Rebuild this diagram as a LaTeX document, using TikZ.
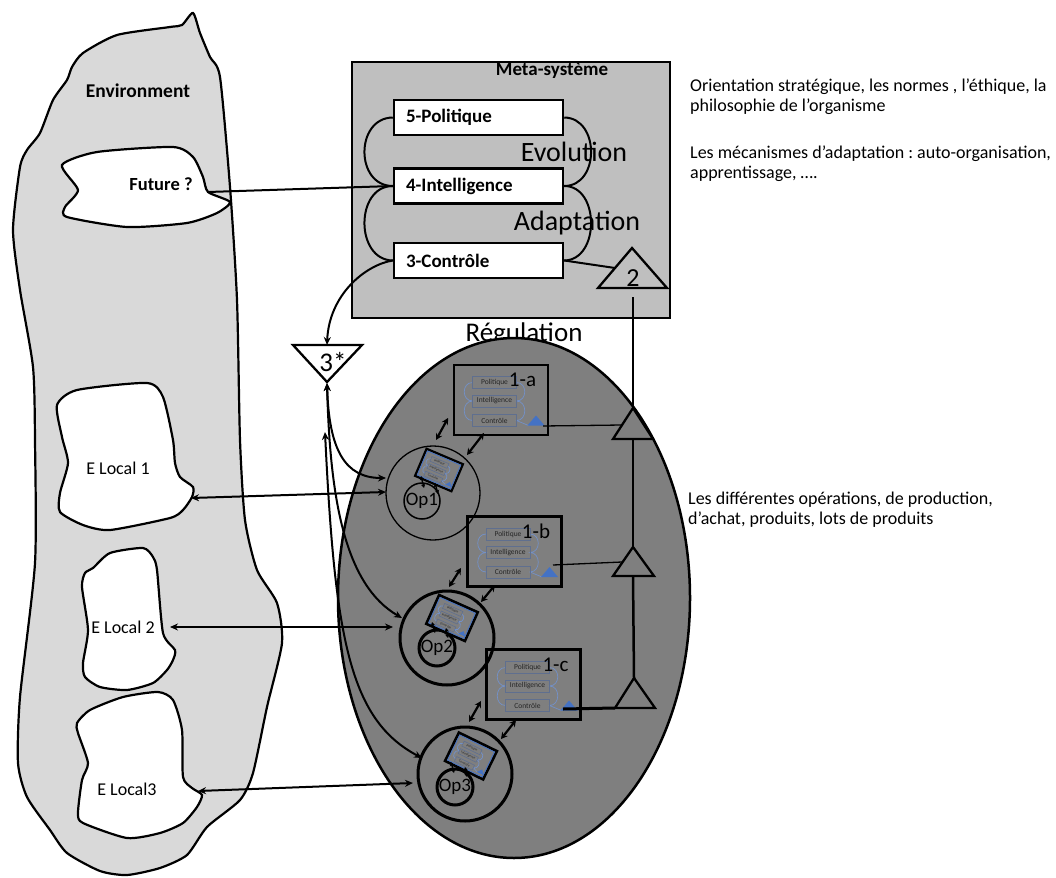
\documentclass[tikz,border=0pt]{standalone}
\usepackage{fontspec}
\setmainfont{Carlito}
\usetikzlibrary{arrows.meta}
\frenchspacing
\newcommand\setfs[1]{\fontsize{#1}{#1}\selectfont}
\definecolor{envgray}{HTML}{D9D9D9}
\definecolor{metagray}{HTML}{BFBFBF}
\definecolor{ellgray}{HTML}{7F7F7F}
\definecolor{mblue}{HTML}{4472C4}
\definecolor{labline}{HTML}{5F6F8F}
\definecolor{loopblue}{HTML}{7391C8}
\tikzset{
  minilab/.style={draw=labline, line width=0.6pt, minimum width=44pt, minimum height=12pt,
    font=\setfs{7.5}, text=black!85, transform shape},
  loopline/.style={draw=loopblue, line width=0.7pt},
  pics/msys/.style n args={2}{code={
    \draw[line width=#2, fill=ellgray] (-47,-35) rectangle (47,35);
    \draw[loopline] (-28,-17) .. controls (-39,-17) and (-39,1.5) .. (-28,1.5)
                    .. controls (-39,1.5) and (-39,21) .. (-28,21);
    \draw[loopline] (16,-17) .. controls (27,-17) and (27,1.5) .. (16,1.5)
                    .. controls (27,1.5) and (27,21) .. (16,21) -- (28,26);
    \node[minilab] (-p) at (-6,-17) {Politique};
    \node[minilab] (-i) at (-6,1.5) {Intelligence};
    \node[minilab] (-c) at (-6,21) {Contrôle};
    \fill[mblue] (27,26) -- (44,26) -- (35.5,16) -- cycle;
    \node[font=\setfs{21}, transform shape] (-lab) at (22,-20) {#1};
  }}
}
\begin{document}
\begin{tikzpicture}[x=1pt,y=-1pt,
  every node/.style={inner sep=0pt},
  blobline/.style={draw=black, line width=2.2pt, fill=white},
  dbl/.style={line width=2pt,{Stealth[length=8pt,width=7pt]}-{Stealth[length=8pt,width=7pt]}},
  sdbl/.style={line width=2.2pt,{Stealth[length=6.5pt,width=7pt]}-{Stealth[length=6.5pt,width=7pt]}},
  tdbl/.style={line width=1.4pt,{Stealth[length=4pt,width=4.5pt]}-{Stealth[length=4pt,width=4.5pt]}},
  tip/.style={line width=2pt,-{Stealth[length=8pt,width=7pt]}},
  metabox/.style={draw, line width=2.5pt, fill=white, minimum width=169pt, minimum height=35pt,
    text width=145pt, align=left, font=\bfseries\setfs{19}},
  tri/.style={line width=2.3pt, line join=miter},
  opout/.style={circle, draw, minimum size=94pt},
  opin/.style={circle, draw, minimum size=36pt, font=\setfs{19}},
  side/.style={anchor=base west, align=left, font=\fontsize{18}{20}\selectfont}
]
\useasboundingbox (0,0) rectangle (1056,877);

% ---------- Environment ----------
\draw[line width=2.2pt, fill=envgray] plot[smooth cycle, tension=0.4] coordinates {
 (193,13) (182,25) (170,27) (117,35) (83,53) (72,67) (67,80) (53,100) (40,133) (27,150)
 (20,167) (13,230) (20,290) (33,367) (35,440) (35,563) (20,697) (18,763) (27,797) (50,830)
 (67,853) (100,871) (127,875) (160,868) (187,855) (207,827) (240,800) (253,773) (267,707)
 (282,643) (277,603) (257,570) (245,520) (240,440) (237,300) (230,187) (220,77) (210,57) (200,33)};
\node[font=\bfseries\setfs{19.5}] (env) at (138,91) {Environment};

\draw[blobline] plot[smooth cycle, tension=0.4] coordinates {
 (62,165) (97,152) (173,147) (193,157) (203,177) (208,192) (230,202) (217,213) (187,223)
 (127,227) (67,217) (65,207) (78,190)};
\node[font=\bfseries\setfs{18.5}] (fut) at (161,184) {Future ?};
\coordinate (futp) at (208,192);

\draw[blobline] plot[smooth cycle, tension=0.4] coordinates {
 (57,405) (77,390) (147,383) (163,397) (173,440) (175,463) (180,477) (193,487) (192,497)
 (183,510) (170,518) (110,530) (83,525) (60,512) (60,493) (68,463) (62,437)};
\node[font=\setfs{18}] (el1) at (118,468) {E Local 1};
\coordinate (el1p) at (191,498);

\draw[blobline] plot[smooth cycle, tension=0.4] coordinates {
 (143,548) (153,557) (157,570) (163,633) (175,650) (173,660) (167,670) (153,683) (127,690)
 (100,687) (85,677) (83,663) (88,630) (82,587) (85,573) (93,568) (110,553)};
\node[font=\setfs{18}] (el2) at (123,627) {E Local 2};
\coordinate (el2p) at (170,627);

\draw[blobline] plot[smooth cycle, tension=0.4] coordinates {
 (158,692) (173,700) (182,730) (183,777) (192,788) (202,795) (197,807) (183,823) (160,833)
 (127,838) (83,823) (78,813) (82,780) (88,763) (78,733) (77,723) (90,710) (123,697)};
\node[font=\setfs{18}] (el3) at (127,789) {E Local3};
\coordinate (el3p) at (198,791);

% ---------- Meta-systeme ----------
\node[draw, line width=2.5pt, fill=metagray, minimum width=318pt, minimum height=256pt] (meta) at (511,190) {};
\node[anchor=base, font=\bfseries\setfs{19}] (metalab) at (552,76) {Meta-système};
\node[metabox] (pol) at (478.5,117.5) {5-Politique};
\node[metabox] (int) at (478.5,186) {4-Intelligence};
\node[metabox] (ctl) at (478.5,260.5) {3-Contrôle};
\draw[line width=2pt] (pol.west) .. controls (355,118) and (355,186) .. (int.west);
\draw[line width=2pt] (int.west) .. controls (355,186) and (355,260) .. (ctl.west);
\draw[line width=2pt] (pol.east) .. controls (600,118) and (600,186) .. (int.east);
\draw[line width=2pt] (int.east) .. controls (600,186) and (600,260) .. (ctl.east);
\node[anchor=base, font=\setfs{28}] (evo) at (574,162) {Evolution};
\node[anchor=base, font=\setfs{28}] (ada) at (577,230) {Adaptation};

\draw[tri] (632,248) -- (667,288) -- (598,288) -- cycle;
\node[anchor=base, font=\setfs{26}] (two) at (633,286) {2};
\coordinate (t2l) at (615,268);
\coordinate (t2b) at (633,297);
\draw[line width=2pt] (ctl.east) -- (t2l);

\draw[line width=2pt] (futp) -- (int.west);

\node[anchor=base, font=\setfs{27}] (reg) at (524,341) {Régulation};

% ---------- 3* ----------
\draw[tri, fill=white] (293,345) -- (362,345) -- (327,382) -- cycle;
\node[anchor=base, font=\setfs{27}] (s3) at (333,371) {3*};
\coordinate (s3top) at (327,345);
\coordinate (s3bot) at (327,383);
\coordinate (s3mid) at (325,432);
\draw[tip] (ctl.west) .. controls (365,265) and (329,295) .. (s3top);

% ---------- Operations ellipse ----------
\draw[line width=2.5pt, fill=ellgray] (514,598) ellipse [x radius=176, y radius=260];

% triangles on the right
\draw[tri] (633,408) -- (653,439) -- (613,439) -- cycle;
\draw[tri] (633,547) -- (654,576) -- (613,576) -- cycle;
\draw[tri] (634,678) -- (655,708) -- (615,708) -- cycle;
\coordinate (tat) at (633,408); \coordinate (tab) at (633,439); \coordinate (tal) at (622,425);
\coordinate (tbt) at (633,547); \coordinate (tbb) at (633,576); \coordinate (tbl) at (622,562);
\coordinate (tct) at (634,678); \coordinate (tcl) at (615,708);
\draw[line width=1.2pt] (t2b) -- (tat);
\draw[line width=1.2pt] (tab) -- (tbt);
\draw[line width=2.5pt] (tbb) -- (tct);

% operation units
\pic (sa) at (500.5,399.5) {msys={1-a}{2pt}};
\pic (sb) at (514,551) {msys={1-b}{3pt}};
\pic (sc) at (533.5,684.5) {msys={1-c}{3pt}};
\coordinate (sat) at (543,426);
\coordinate (sbt) at (553,565);
\coordinate (sct) at (563,709);
\draw[line width=1.3pt] (sat) -- (tal);
\draw[line width=1.3pt] (sbt) -- (tbl);
\draw[line width=3pt] (sct) -- (tcl);

\node[opout, line width=1.3pt] (op1) at (433,493) {};
\node[opin, line width=1.5pt] (op1i) at (422,501) {Op1};
\node[opout, line width=3pt] (op2) at (447,638) {};
\node[opin, line width=3pt] (op2i) at (437,648) {Op2};
\node[opout, line width=3pt] (op3) at (465,774) {};
\node[opin, line width=3pt] (op3i) at (455,787) {Op3};

\begin{scope}[shift={(439,470)}, rotate=-23, scale=0.42]
  \pic[transform shape] (m1) {msys={}{2.2pt}};
  \draw[mblue, line width=0.8pt] (-43,-31) rectangle (43,31);
\end{scope}
\begin{scope}[shift={(452,618)}, rotate=-24, scale=0.45]
  \pic[transform shape] (m2) {msys={}{2.6pt}};
  \draw[mblue, line width=0.8pt] (-43,-31) rectangle (43,31);
\end{scope}
\begin{scope}[shift={(471,756)}, rotate=-26, scale=0.45]
  \pic[transform shape] (m3) {msys={}{2.6pt}};
  \draw[mblue, line width=0.8pt] (-43,-31) rectangle (43,31);
\end{scope}

% small arrows inside the op circles
\coordinate (a11) at (421,476); \coordinate (a12) at (424,488);
\coordinate (a13) at (435,483); \coordinate (a14) at (438,494);
\coordinate (a21) at (432,622); \coordinate (a22) at (435,633);
\coordinate (a23) at (446,628); \coordinate (a24) at (448,638);
\coordinate (a31) at (451,762); \coordinate (a32) at (454,773);
\coordinate (a33) at (465,767); \coordinate (a34) at (467,777);
\draw[tdbl] (a11) -- (a12); \draw[tdbl] (a13) -- (a14);
\draw[tdbl] (a21) -- (a22); \draw[tdbl] (a23) -- (a24);
\draw[tdbl] (a31) -- (a32); \draw[tdbl] (a33) -- (a34);

% small arrows between control boxes and operations
\coordinate (ba1) at (436,440); \coordinate (ba2) at (448,418);
\coordinate (ba3) at (467,455); \coordinate (ba4) at (484,433);
\coordinate (bb1) at (449,587); \coordinate (bb2) at (461,568);
\coordinate (bb3) at (481,602); \coordinate (bb4) at (495,585);
\coordinate (bc1) at (469,722); \coordinate (bc2) at (481,701);
\coordinate (bc3) at (501,739); \coordinate (bc4) at (516,720);
\draw[sdbl] (ba1) -- (ba2); \draw[sdbl] (ba3) -- (ba4);
\draw[sdbl] (bb1) -- (bb2); \draw[sdbl] (bb3) -- (bb4);
\draw[sdbl] (bc1) -- (bc2); \draw[sdbl] (bc3) -- (bc4);

% links environment <-> operations
\coordinate (op1w) at (386,492);
\coordinate (op2w) at (393,627);
\coordinate (op3w) at (413,783);
\draw[dbl] (el1p) -- (op1w);
\draw[dbl] (el2p) -- (op2w);
\draw[dbl] (el3p) -- (op3w);

% links 3* <-> operations
\coordinate (op1a) at (386,478);
\coordinate (op2a) at (402,618);
\coordinate (op3a) at (422,758);
\draw[dbl] (s3bot) .. controls (329,450) and (345,478) .. (op1a);
\draw[dbl] (s3bot) .. controls (330,500) and (345,585) .. (op2a);
\draw[dbl] (s3mid) .. controls (335,640) and (350,720) .. (op3a);

% ---------- side notes ----------
\node[side] (n1) at (690,112) {Orientation stratégique, les normes , l’éthique, la\\philosophie de l’organisme};
\node[side] (n2) at (690,179) {Les mécanismes d’adaptation : auto-organisation,\\apprentissage, ….};
\node[side] (n3) at (688,524) {Les différentes opérations, de production,\\d’achat, produits, lots de produits};
\end{tikzpicture}
\end{document}
